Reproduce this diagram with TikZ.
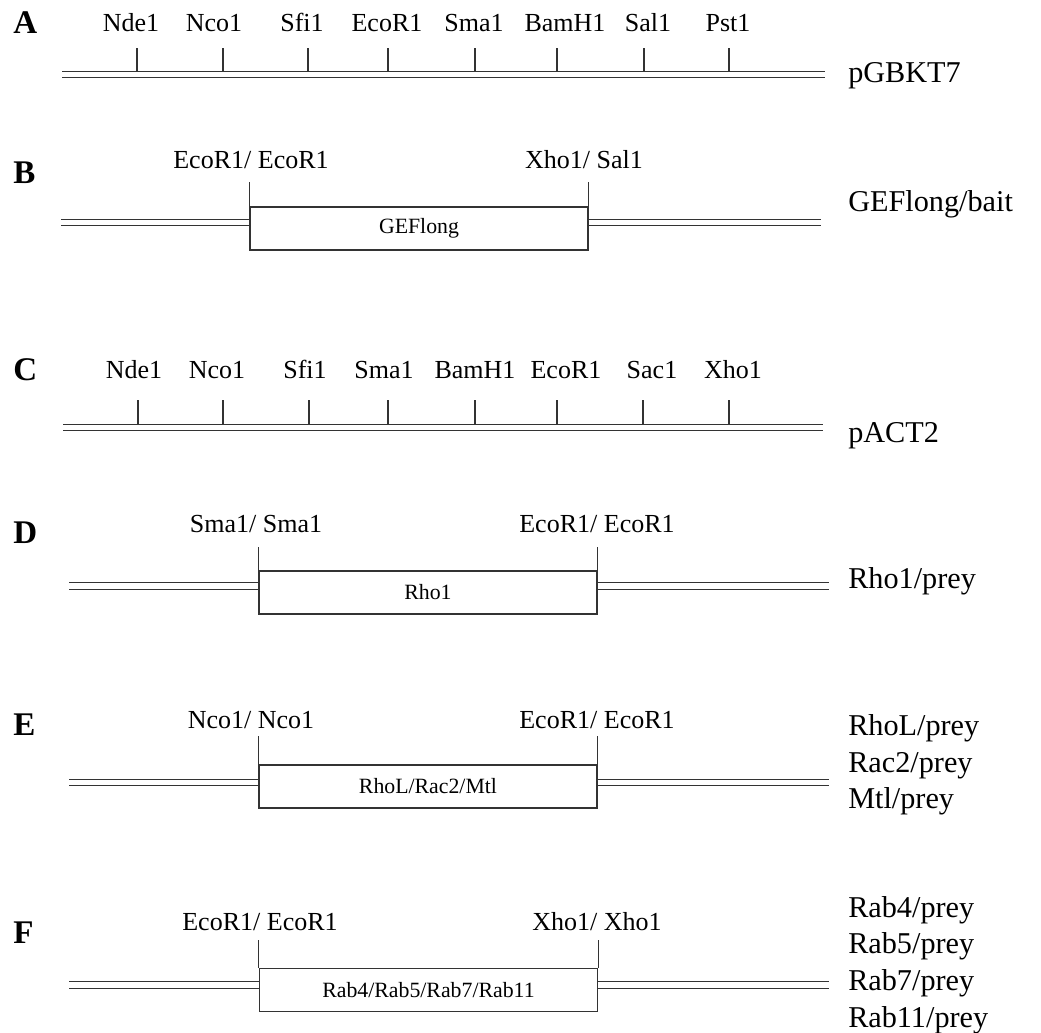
\documentclass[tikz,border=0pt]{standalone}
\usepackage{fontspec}
\setmainfont{Liberation Serif}

\begin{document}
\begin{tikzpicture}[
    x=0.025cm,
    y=-0.025cm,
    tick/.style={draw=black!80, line width=0.95pt},
    dna/.style={draw=black!80, line width=0.95pt, double=white, double distance=3.7pt},
    insert/.style={
        draw=black!80,
        line width=0.95pt,
        minimum width=8.45cm,
        minimum height=1.075cm,
        inner sep=0pt,
        font=\fontsize{15.5}{18}\selectfont
    },
    site/.style={anchor=base, inner sep=0pt, font=\fontsize{18.5}{21}\selectfont},
    construct/.style={anchor=base west, inner sep=0pt, font=\fontsize{21.5}{26}\selectfont},
    panel/.style={anchor=base west, inner sep=0pt, font=\fontsize{23.5}{28}\selectfont\bfseries}
]
\useasboundingbox (0,0) rectangle (1041,1033);

% A: pGBKT7
\node[panel] (lA) at (13,33) {A};
\coordinate (aL) at (62,74.5);
\coordinate (aR) at (825,74.5);
\draw[dna] (aL) -- (aR);
\foreach \x/\lx/\name in {137/131/Nde1, 223/214/Nco1, 308/302/Sfi1, 388/387/EcoR1,
                          475/474/Sma1, 557/565/BamH1, 644/648/Sal1, 729/728/Pst1} {
    \draw[tick] (\x,48) -- (\x,71);
    \node[site] (a-\name) at (\lx,31.5) {\name};
}
\node[construct] (pgbkt7) at (848,82) {pGBKT7};

% B: GEFlong/bait
\node[panel] (lB) at (13,183) {B};
\node[insert] (geflong) at (419,228.5) {GEFlong};
\draw[tick] (geflong.north west) -- ++(0,-24);
\draw[tick] (geflong.north east) -- ++(0,-24);
\node[site] (b-left) at (251,168) {EcoR1/ EcoR1};
\node[site] (b-right) at (584,168) {Xho1/ Sal1};
\coordinate (bL) at (61,222.5);
\coordinate (bR) at (821,222.5);
\draw[dna] (bL) -- (bL -| geflong.west);
\draw[dna] (geflong.east |- bR) -- (bR);
\node[construct] (bait) at (848,211) {GEFlong/bait};

% C: pACT2
\node[panel] (lC) at (13,380) {C};
\coordinate (cL) at (63,427.5);
\coordinate (cR) at (823,427.5);
\draw[dna] (cL) -- (cR);
\foreach \x/\lx/\name in {138/134/Nde1, 223/217/Nco1, 309/305/Sfi1, 388/384/Sma1,
                          475/475/BamH1, 557/566/EcoR1, 643/652/Sac1, 729/733/Xho1} {
    \draw[tick] (\x,400) -- (\x,424);
    \node[site] (c-\name) at (\lx,378) {\name};
}
\node[construct] (pact2) at (848,442) {pACT2};

% D: Rho1/prey
\node[panel] (lD) at (13,543) {D};
\node[insert] (rho1) at (428,592.5) {Rho1};
\draw[tick] (rho1.north west) -- ++(0,-23);
\draw[tick] (rho1.north east) -- ++(0,-23);
\node[site] (d-left) at (256,532) {Sma1/ Sma1};
\node[site] (d-right) at (597,532) {EcoR1/ EcoR1};
\coordinate (dL) at (69,586);
\coordinate (dR) at (829,586);
\draw[dna] (dL) -- (dL -| rho1.west);
\draw[dna] (rho1.east |- dR) -- (dR);
\node[construct] (rho1prey) at (848,588) {Rho1/prey};

% E: RhoL/Rac2/Mtl
\node[panel] (lE) at (13,735) {E};
\node[insert] (rhol) at (428,786.5) {RhoL/Rac2/Mtl};
\draw[tick] (rhol.north west) -- ++(0,-28);
\draw[tick] (rhol.north east) -- ++(0,-28);
\node[site] (e-left) at (251,728) {Nco1/ Nco1};
\node[site] (e-right) at (597,728) {EcoR1/ EcoR1};
\coordinate (eL) at (69,782.5);
\coordinate (eR) at (829,782.5);
\draw[dna] (eL) -- (eL -| rhol.west);
\draw[dna] (rhol.east |- eR) -- (eR);
\foreach \y/\name in {735/RhoL, 772/Rac2, 808/Mtl}
    \node[construct] (e-\name) at (848,\y) {\name/prey};

% F: Rab4/Rab5/Rab7/Rab11
\node[panel] (lF) at (13,943) {F};
\node[insert] (rab) at (428.5,990) {Rab4/Rab5/Rab7/Rab11};
\draw[tick] (rab.north west) -- ++(0,-28);
\draw[tick] (rab.north east) -- ++(0,-28);
\node[site] (f-left) at (260,930) {EcoR1/ EcoR1};
\node[site] (f-right) at (597,930) {Xho1/ Xho1};
\coordinate (fL) at (69,985);
\coordinate (fR) at (829,985);
\draw[dna] (fL) -- (fL -| rab.west);
\draw[dna] (rab.east |- fR) -- (fR);
\foreach \y/\name in {917/Rab4, 953/Rab5, 990/Rab7, 1027/Rab11}
    \node[construct] (f-\name) at (848,\y) {\name/prey};

\end{tikzpicture}
\end{document}
